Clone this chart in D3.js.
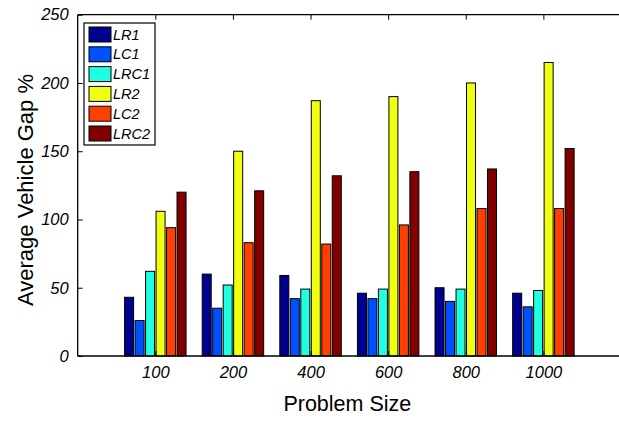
<!DOCTYPE html>
<html><head><meta charset="utf-8">
<script src="https://cdn.jsdelivr.net/npm/d3@7"></script>
<style>body{margin:0;background:#fff}svg{display:block}text{font-family:Arial,"Liberation Sans",sans-serif}</style>
</head><body><svg id="c" width="619" height="423"></svg>
<script>
const categories = ["100","200","400","600","800","1000"];
const seriesNames = ["LR1","LC1","LRC1","LR2","LC2","LRC2"];
const colors = ["#00008F","#0050FF","#20FFDF","#F0FF10","#FF4000","#800000"];
const LR1  = [43, 60, 59, 46, 50, 46];
const LC1  = [26, 35, 42, 42, 40, 36];
const LRC1 = [62, 52, 49, 49, 49, 48];
const LR2  = [106, 150, 187, 190, 200, 215];
const LC2  = [94, 83, 82, 96, 108, 108];
const LRC2 = [120, 121, 132, 135, 137, 152];
const seriesValues = [LR1, LC1, LRC1, LR2, LC2, LRC2];
const yTicks = [0, 50, 100, 150, 200, 250];

const svg = d3.select("#c");
const L = 77.7, R = 621, T = 14.7, B = 356;
const x = d3.scaleLinear().domain([0, 7]).range([L, R]);
const y = d3.scaleLinear().domain([0, 250]).range([B, T]);
const groupW = 0.8 * (x(1) - x(0));
const inner = d3.scaleBand().domain(seriesNames).range([-groupW/2, groupW/2]).paddingInner(0.14).paddingOuter(0.03);

// bars
seriesNames.forEach((s, si) => {
  svg.append("g").selectAll("rect").data(seriesValues[si]).join("rect")
    .attr("x", (d, i) => x(i + 1) + inner(s))
    .attr("y", d => y(d))
    .attr("width", inner.bandwidth())
    .attr("height", d => y(0) - y(d))
    .attr("fill", colors[si])
    .attr("stroke", "#000").attr("stroke-width", 1);
});

// axes frame
const frame = svg.append("g").attr("stroke", "#000").attr("stroke-width", 1.3).attr("fill", "none");
frame.append("line").attr("x1", L).attr("x2", R).attr("y1", B).attr("y2", B);
frame.append("line").attr("x1", L).attr("x2", R).attr("y1", T).attr("y2", T);
frame.append("line").attr("x1", L).attr("x2", L).attr("y1", T).attr("y2", B);

// y ticks
const yAxis = d3.axisLeft(y).tickValues(yTicks).tickSize(-5).tickPadding(9).tickFormat(d3.format("d"));
const ya = svg.append("g").attr("transform", `translate(${L},0)`).call(yAxis);
ya.select(".domain").remove();
ya.selectAll("line").attr("stroke", "#000");
ya.selectAll("text").attr("font-size", 16.5).attr("font-style", "italic").attr("fill", "#000")
  .attr("font-family", "Arial, 'Liberation Sans', sans-serif");

// x ticks
const xAxis = d3.axisBottom(x).tickValues(d3.range(1, 7)).tickSize(-5).tickPadding(10)
  .tickFormat(d => categories[d - 1]);
const xa = svg.append("g").attr("transform", `translate(0,${B})`).call(xAxis);
xa.select(".domain").remove();
xa.selectAll("line").attr("stroke", "#000");
xa.selectAll("text").attr("font-size", 16.5).attr("font-style", "italic").attr("fill", "#000")
  .attr("font-family", "Arial, 'Liberation Sans', sans-serif");
// top ticks
const xt = svg.append("g").attr("transform", `translate(0,${T})`).call(d3.axisTop(x).tickValues(d3.range(1, 7)).tickSize(-5).tickFormat(""));
xt.select(".domain").remove();
xt.selectAll("line").attr("stroke", "#000");

// titles
svg.append("text").attr("x", (L + 619) / 2 - 1).attr("y", 411).attr("text-anchor", "middle")
  .attr("font-size", 21.5).text("Problem Size");
svg.append("text").attr("transform", `translate(33,190) rotate(-90)`).attr("text-anchor", "middle")
  .attr("font-size", 22).text("Average Vehicle Gap %");

// legend
const lg = svg.append("g").attr("transform", "translate(84,23)");
lg.append("rect").attr("width", 71).attr("height", 122).attr("fill", "#fff").attr("stroke", "#000").attr("stroke-width", 1.2);
seriesNames.forEach((s, i) => {
  const g = lg.append("g").attr("transform", `translate(5,${4 + i * 19.8})`);
  g.append("rect").attr("width", 22).attr("height", 15).attr("fill", colors[i]).attr("stroke", "#000").attr("stroke-width", 1);
  g.append("text").attr("x", 24).attr("y", 12.5).attr("font-size", 14.5).attr("font-style", "italic").text(s);
});
</script></body></html>
